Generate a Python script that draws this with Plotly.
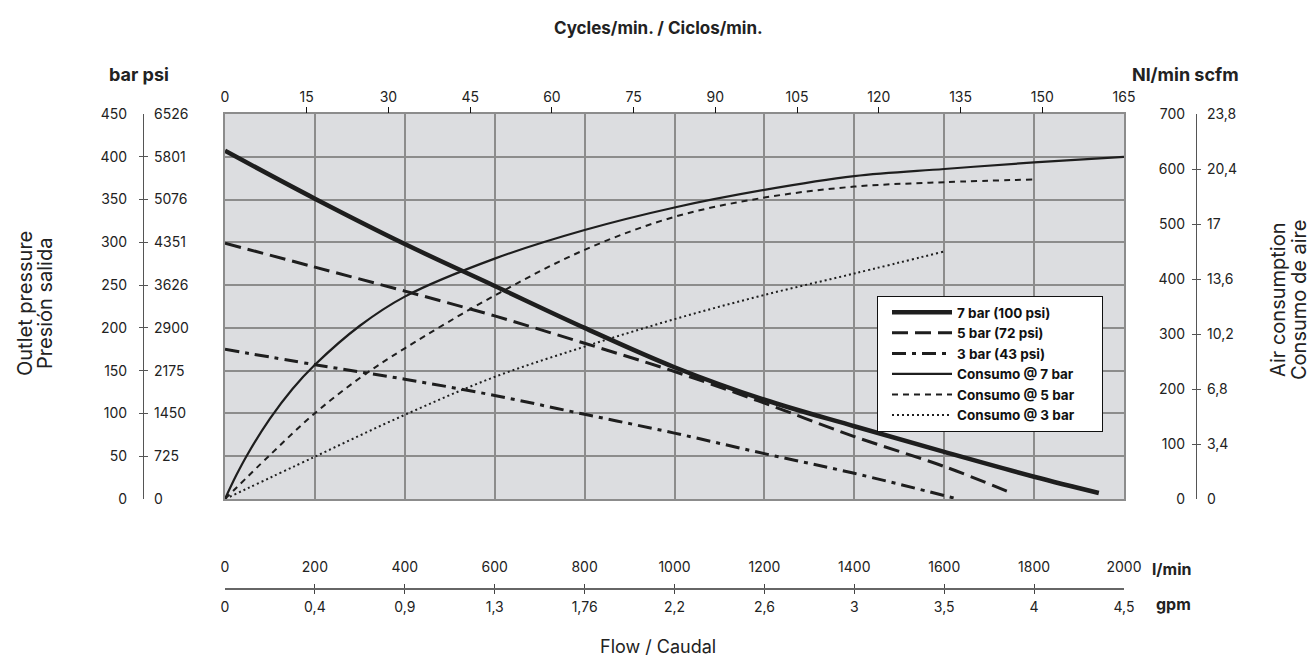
import plotly.graph_objects as go

W, H = 1316, 657
OFF = 8                      # browser default body margin
FW, FH = W - OFF, H - OFF    # figure size so the page fits the window

# ---------------- data ----------------
# Outlet pressure (bar) vs flow (l/min)
flow_7bar = [0, 200, 400, 600, 800, 1000, 1200, 1400, 1600, 1800, 1944]
pres_7bar = [407, 351, 298, 249, 200, 154, 116, 85, 55, 26, 7]
flow_5bar = [0, 200, 400, 600, 800, 1000, 1200, 1400, 1600, 1750]
pres_5bar = [299, 271, 243, 214, 182, 149, 112, 73, 38, 7]
flow_3bar = [0, 200, 400, 600, 800, 1000, 1200, 1400, 1630]
pres_3bar = [175, 157, 140, 121, 99, 77, 53, 30, 0]

# Air consumption (Nl/min) vs flow (l/min)
flow_c7 = [0, 25, 50, 100, 150, 200, 300, 400, 600, 800, 1000, 1200, 1400, 1600, 1800, 2000]
cons_7 = [0, 43, 81, 146, 200, 244, 315, 368, 437, 489, 530, 562, 587, 600, 612, 622]
flow_c5 = [0, 100, 200, 300, 400, 600, 800, 1000, 1200, 1400, 1600, 1800]
cons_5 = [0, 80, 156, 220, 274, 370, 453, 513, 548, 568, 576, 581]
flow_c3 = [0, 200, 400, 600, 800, 1000, 1200, 1400, 1600]
cons_3 = [0, 77, 153, 222, 277, 327, 371, 410, 450]

series_names = ["7 bar (100 psi)", "5 bar (72 psi)", "3 bar (43 psi)",
                "Consumo @ 7 bar", "Consumo @ 5 bar", "Consumo @ 3 bar"]

# tick values / labels
bar_ticks = [0, 50, 100, 150, 200, 250, 300, 350, 400, 450]
psi_labels = ["0", "725", "1450", "2175", "2900", "3626", "4351", "5076", "5801", "6526"]
nl_ticks = [0, 100, 200, 300, 400, 500, 600, 700]
scfm_labels = ["0", "3,4", "6,8", "10,2", "13,6", "17", "20,4", "23,8"]
lmin_ticks = [0, 200, 400, 600, 800, 1000, 1200, 1400, 1600, 1800, 2000]
gpm_labels = ["0", "0,4", "0,9", "1,3", "1,76", "2,2", "2,6", "3", "3,5", "4", "4,5"]
cycle_ticks = [0, 15, 30, 45, 60, 75, 90, 105, 120, 135, 150, 165]

# ---------------- geometry (reference pixels -> paper) ----------------
def px_x(p):
    return (p - OFF) / FW

def px_y(p):
    return 1 - (p - OFF) / FH

X_DOM = [px_x(225), px_x(1124)]
Y_DOM = [px_y(499), px_y(114)]
LEFT_AX = px_x(143)
RIGHT_AX = px_x(1196)
BOTTOM_AX = px_y(589)

FONT = "Inter, Roboto, sans-serif"
INK = "#1e1e1e"
GRID = "#8c8c8c"
AXLINE = "#555555"
PAD = "\u00a0" * 7   # keeps the legend box as wide as in the reference

fig = go.Figure()

pressure_styles = [
    dict(width=4.5, dash="solid"),
    dict(width=3, dash="16px,7px"),
    dict(width=3, dash="14px,6px,4px,6px"),
]
cons_styles = [
    dict(width=2.2, dash="solid"),
    dict(width=2, dash="6px,5px"),
    dict(width=2, dash="2px,3px"),
]

for (fx, fy), st, nm in zip([(flow_7bar, pres_7bar), (flow_5bar, pres_5bar), (flow_3bar, pres_3bar)],
                            pressure_styles, series_names[:3]):
    fig.add_trace(go.Scatter(x=fx, y=fy, mode="lines", name=nm + PAD, line_shape="spline",
                             line=dict(color=INK, **st), xaxis="x", yaxis="y"))

for (fx, fy), st, nm in zip([(flow_c7, cons_7), (flow_c5, cons_5), (flow_c3, cons_3)],
                            cons_styles, series_names[3:]):
    fig.add_trace(go.Scatter(x=fx, y=fy, mode="lines", name=nm + PAD, line_shape="spline",
                             line=dict(color=INK, **st), xaxis="x", yaxis="y4"))

# invisible helper traces so the auxiliary axes are drawn
for xa, ya in [("x", "y2"), ("x", "y3"), ("x", "y5"), ("x2", "y"), ("x3", "y"), ("x4", "y")]:
    fig.add_trace(go.Scatter(x=[None], y=[None], xaxis=xa, yaxis=ya, showlegend=False,
                             hoverinfo="skip", mode="lines"))

tickfont = dict(family=FONT, size=14, color="#222222")

def minor_ticks(vals, length=4, color=AXLINE):
    return dict(tickmode="array", tickvals=vals, ticks="outside",
                ticklen=length, tickcolor=color, tickwidth=1)

fig.update_layout(
    width=FW, height=FH,
    margin=dict(l=0, r=0, t=0, b=0, autoexpand=False),
    paper_bgcolor="white",
    plot_bgcolor="#dcdde0",
    font=dict(family=FONT, color="#222222"),
    showlegend=True,
    legend=dict(
        x=px_x(877), y=px_y(296), xanchor="left", yanchor="top",
        bgcolor="white", bordercolor="#111111", borderwidth=1,
        font=dict(family=FONT, size=13.5, color="#111111", weight="bold"),
        itemwidth=60, indentation=9, tracegroupgap=0,
    ),
    # main plot area
    xaxis=dict(domain=X_DOM, range=[0, 2000], anchor="y",
               showgrid=True, gridcolor=GRID, gridwidth=2, tickmode="array", tickvals=lmin_ticks,
               showticklabels=False, ticks="", zeroline=False,
               showline=True, linecolor=GRID, linewidth=2, mirror=True, fixedrange=True),
    yaxis=dict(domain=Y_DOM, range=[0, 450], anchor="x",
               showgrid=True, gridcolor=GRID, gridwidth=2, tickmode="array", tickvals=bar_ticks,
               showticklabels=False, ticks="", zeroline=False,
               showline=True, linecolor=GRID, linewidth=2, mirror=True, fixedrange=True),
    # left: bar labels
    yaxis2=dict(overlaying="y", anchor="free", position=LEFT_AX, side="left",
                range=[0, 450], tickmode="array", tickvals=bar_ticks,
                ticks="inside", ticklen=0, showgrid=False, zeroline=False,
                showline=True, linecolor=AXLINE, linewidth=1,
                minor=minor_ticks(bar_ticks[1:-1]),
                tickfont=tickfont, ticklabelstandoff=13),
    # left: psi labels
    yaxis3=dict(overlaying="y", anchor="free", position=LEFT_AX, side="right",
                range=[0, 450], tickmode="array", tickvals=bar_ticks, ticktext=psi_labels,
                ticks="inside", ticklen=0, showgrid=False, zeroline=False,
                showline=False,
                minor=minor_ticks(bar_ticks[1:-1]),
                tickfont=tickfont, ticklabelstandoff=10),
    # right: Nl/min labels (consumption axis)
    yaxis4=dict(overlaying="y", anchor="free", position=RIGHT_AX, side="left",
                range=[0, 700], tickmode="array", tickvals=nl_ticks,
                ticks="inside", ticklen=0, showgrid=False, zeroline=False,
                showline=True, linecolor=AXLINE, linewidth=1,
                minor=minor_ticks(nl_ticks[1:-1]),
                tickfont=tickfont, ticklabelstandoff=8),
    # right: scfm labels
    yaxis5=dict(overlaying="y", anchor="free", position=RIGHT_AX, side="right",
                range=[0, 700], tickmode="array", tickvals=nl_ticks, ticktext=scfm_labels,
                ticks="inside", ticklen=0, showgrid=False, zeroline=False,
                showline=False,
                minor=minor_ticks(nl_ticks[1:-1]),
                tickfont=tickfont, ticklabelstandoff=10),
    # bottom: l/min
    xaxis2=dict(overlaying="x", anchor="free", position=BOTTOM_AX, side="top",
                range=[0, 2000], tickmode="array", tickvals=lmin_ticks,
                ticks="inside", ticklen=0, showgrid=False, zeroline=False,
                showline=True, linecolor="#666666", linewidth=2,
                minor=minor_ticks(lmin_ticks[1:-1], color="#444444"),
                tickfont=tickfont, ticklabelstandoff=10),
    # bottom: gpm
    xaxis3=dict(overlaying="x", anchor="free", position=BOTTOM_AX, side="bottom",
                range=[0, 2000], tickmode="array", tickvals=lmin_ticks, ticktext=gpm_labels,
                ticks="inside", ticklen=0, showgrid=False, zeroline=False,
                showline=False,
                minor=minor_ticks(lmin_ticks[1:-1], color="#444444"),
                tickfont=tickfont, ticklabelstandoff=8),
    # top: cycles/min
    xaxis4=dict(overlaying="x", anchor="y", side="top",
                range=[0, 165], tickmode="array", tickvals=cycle_ticks,
                ticks="inside", ticklen=0, showgrid=False, zeroline=False,
                showline=False,
                minor=minor_ticks(cycle_ticks[1:], length=6, color="#111111"),
                tickfont=tickfont, ticklabelstandoff=8),
)

def note(text, x, y, size=15, bold=False, angle=0, xanchor="center", color="#222222"):
    fig.add_annotation(text=text, x=px_x(x), y=px_y(y), xref="paper", yref="paper",
                       showarrow=False, textangle=angle, xanchor=xanchor, yanchor="middle",
                       font=dict(family=FONT, size=size, color=color,
                                 weight="bold" if bold else "normal"))

note("Cycles/min. / Ciclos/min.", 658, 28, size=17, bold=True)
note("bar psi", 139, 75, size=18, bold=True)
note("Nl/min scfm", 1185, 75, size=18, bold=True)
note("l/min", 1150, 569, size=16, bold=True, xanchor="left")
note("gpm", 1154, 604, size=16, bold=True, xanchor="left")
note("Flow / Caudal", 658, 646, size=18)
note("Outlet pressure", 25, 304, size=20, angle=-90)
note("Presión salida", 45, 304, size=20, angle=-90)
note("Air consumption", 1278, 300, size=20, angle=-90)
note("Consumo de aire", 1299, 300, size=20, angle=-90)

fig.write_html("out.html")
